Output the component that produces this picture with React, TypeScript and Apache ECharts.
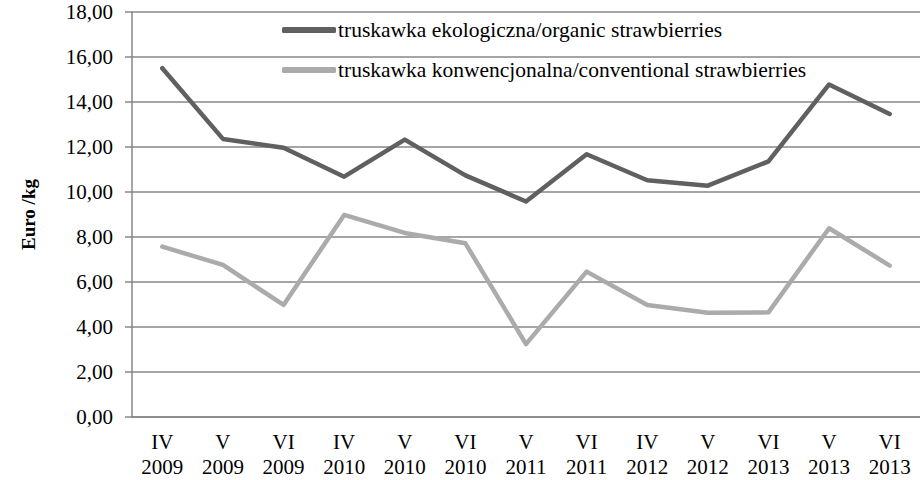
import React, { useEffect, useRef } from "react";
import * as echarts from "echarts";

const categories = ["IV\n2009", "V\n2009", "VI\n2009", "IV\n2010", "V\n2010", "VI\n2010", "V\n2011", "VI\n2011", "IV\n2012", "V\n2012", "VI\n2013", "V\n2013", "VI\n2013"];
const organic = [15.5, 12.36, 11.97, 10.68, 12.33, 10.74, 9.58, 11.68, 10.52, 10.28, 11.36, 14.78, 13.47];
const conventional = [7.57, 6.76, 4.98, 8.98, 8.18, 7.72, 3.24, 6.46, 4.98, 4.63, 4.65, 8.39, 6.73];
const seriesNames = ["truskawka ekologiczna/organic strawbierries", "truskawka konwencjonalna/conventional strawbierries"];
const yTicks = { min: 0, max: 18, interval: 2 };

export default function App() {
  const ref = useRef<HTMLDivElement>(null);
  useEffect(() => {
    if (!ref.current) return;
    const chart = echarts.init(ref.current, null, { renderer: "svg" });
    const font = "'Liberation Serif', 'Times New Roman', serif";
    chart.setOption({
      animation: false,
      textStyle: { fontFamily: font },
      grid: { left: 132, right: 0, top: 12, bottom: 63, containLabel: false },
      legend: {
        orient: "vertical",
        left: 277,
        top: 14,
        itemWidth: 54,
        itemHeight: 6,
        itemGap: 18,
        icon: "roundRect",
        textStyle: { fontFamily: font, fontSize: 21.5, color: "#000", padding: [0, 0, 0, -3] },
        data: seriesNames,
      },
      xAxis: {
        type: "category",
        data: categories,
        boundaryGap: true,
        axisLine: { lineStyle: { color: "#878787", width: 1.5 } },
        axisTick: { show: false },
        axisLabel: { fontFamily: font, fontSize: 21, color: "#000", lineHeight: 25, margin: 12, interval: 0 },
      },
      yAxis: {
        type: "value",
        min: yTicks.min,
        max: yTicks.max,
        interval: yTicks.interval,
        name: "Euro /kg",
        nameLocation: "middle",
        nameGap: 94,
        nameRotate: 90,
        nameTextStyle: { fontFamily: font, fontSize: 19, fontWeight: "bold", color: "#000" },
        axisLine: { show: true, lineStyle: { color: "#878787", width: 1.5 } },
        axisTick: { show: true, length: 7, lineStyle: { color: "#878787", width: 1.5 } },
        splitLine: { lineStyle: { color: "#878787", width: 1.5 } },
        axisLabel: {
          fontFamily: font,
          fontSize: 21,
          color: "#000",
          margin: 19,
          formatter: (v: number) => v.toFixed(2).replace(".", ","),
        },
      },
      series: [
        {
          name: seriesNames[0],
          type: "line",
          data: organic,
          symbol: "none",
          lineStyle: { color: "#606060", width: 4.5, cap: "round", join: "round" },
          itemStyle: { color: "#606060" },
        },
        {
          name: seriesNames[1],
          type: "line",
          data: conventional,
          symbol: "none",
          lineStyle: { color: "#ababab", width: 4.5, cap: "round", join: "round" },
          itemStyle: { color: "#ababab" },
        },
      ],
    });
    return () => chart.dispose();
  }, []);
  return <div ref={ref} style={{ position: "absolute", left: 0, top: 0, width: 920, height: 480 }} />;
}
